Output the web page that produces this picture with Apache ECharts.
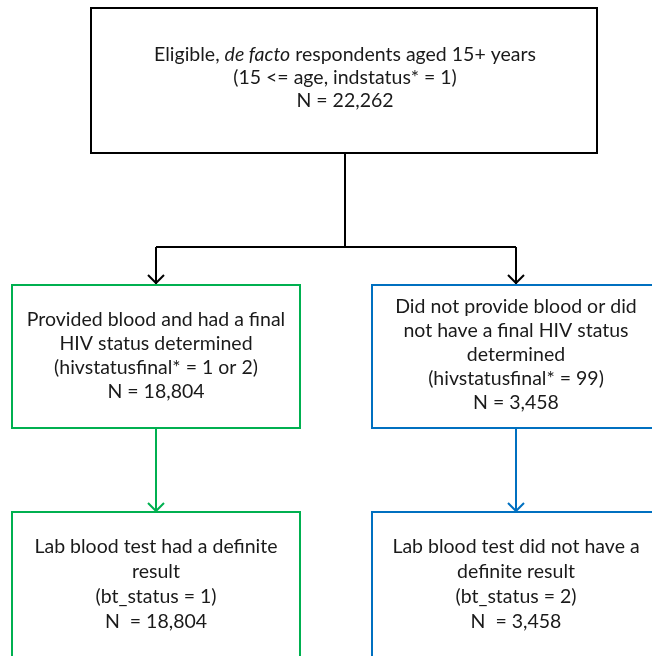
<!DOCTYPE html>
<html><head><meta charset="utf-8">
<script src="https://cdn.jsdelivr.net/npm/echarts@6/dist/echarts.min.js"></script>
<style>html,body{margin:0;padding:0;background:#fff}#c{width:652px;height:656px}</style>
</head><body><div id="c"></div>
<script>
// Node texts and counts
const topLines = [["Eligible, ", {i:"de facto"}, " respondents aged 15+ years"], "(15 <= age, indstatus* = 1)"];
const topN = "N = 22,262";
const leftLines = ["Provided blood and had a final", "HIV status determined", "(hivstatusfinal* = 1 or 2)"];
const leftN = "N = 18,804";
const rightLines = ["Did not provide blood or did", "not have a final HIV status", "determined", "(hivstatusfinal* = 99)"];
const rightN = "N = 3,458";
const leftBottomLines = ["Lab blood test had a definite", "result", "(bt_status = 1)"];
const leftBottomN = "N  = 18,804";
const rightBottomLines = ["Lab blood test did not have a", "definite result", "(bt_status = 2)"];
const rightBottomN = "N  = 3,458";

const FONT = 'Lato';
const FS = 19.5;
const TXT = '#1a1a1a';
const GREEN = '#00b050';
const BLUE = '#0070c0';

function lineToText(l){
  if (typeof l === 'string') return l;
  return l.map(p => typeof p === 'string' ? p : '{i|' + p.i + '}').join('');
}
function textBlock(lines, n, cx, cy, lh){
  const all = lines.map(lineToText).concat([n]);
  return {
    type: 'text', x: cx, y: cy,
    style: {
      text: all.join('\n'), fill: TXT, font: FS + 'px ' + FONT,
      align: 'center', verticalAlign: 'middle', lineHeight: lh,
      rich: { i: { fontStyle: 'italic', fontFamily: FONT, fontSize: FS, fill: TXT, lineHeight: lh } }
    }
  };
}
function box(x, y, w, h, color, lw){
  return { type: 'rect', shape: { x, y, width: w, height: h },
    style: { fill: 'none', stroke: color, lineWidth: lw } };
}
function line(points, color, lw){
  return { type: 'polyline', shape: { points }, style: { fill: 'none', stroke: color, lineWidth: lw } };
}
function arrowHead(x, y, color, lw){
  return line([[x-8, y-9], [x, y-1], [x+8, y-9]], color, lw);
}

const elements = [
  box(91, 8, 506, 145, '#000', 2),
  textBlock(topLines, topN, 345, 78, 23),
  line([[345, 153], [345, 247]], '#000', 2),
  line([[156, 247], [516, 247]], '#000', 2),
  line([[156, 247], [156, 284]], '#000', 2),
  line([[516, 247], [516, 284]], '#000', 2),
  arrowHead(156, 284, '#000', 2),
  arrowHead(516, 284, '#000', 2),

  box(12, 285, 288, 143, GREEN, 2),
  textBlock(leftLines, leftN, 156, 356, 24),
  box(372, 285, 290, 143, BLUE, 2),
  textBlock(rightLines, rightN, 516, 355, 24),

  line([[156, 428], [156, 511]], GREEN, 2),
  arrowHead(156, 512, GREEN, 2),
  line([[516, 428], [516, 511]], BLUE, 2),
  arrowHead(516, 512, BLUE, 2),

  box(12, 512, 288, 160, GREEN, 2),
  textBlock(leftBottomLines, leftBottomN, 156, 584, 25),
  box(372, 512, 290, 160, BLUE, 2),
  textBlock(rightBottomLines, rightBottomN, 516, 584, 25)
];

const chart = echarts.init(document.getElementById('c'), null, { renderer: 'canvas' });
chart.setOption({ animation: false, backgroundColor: '#fff', graphic: { elements } });
</script></body></html>
